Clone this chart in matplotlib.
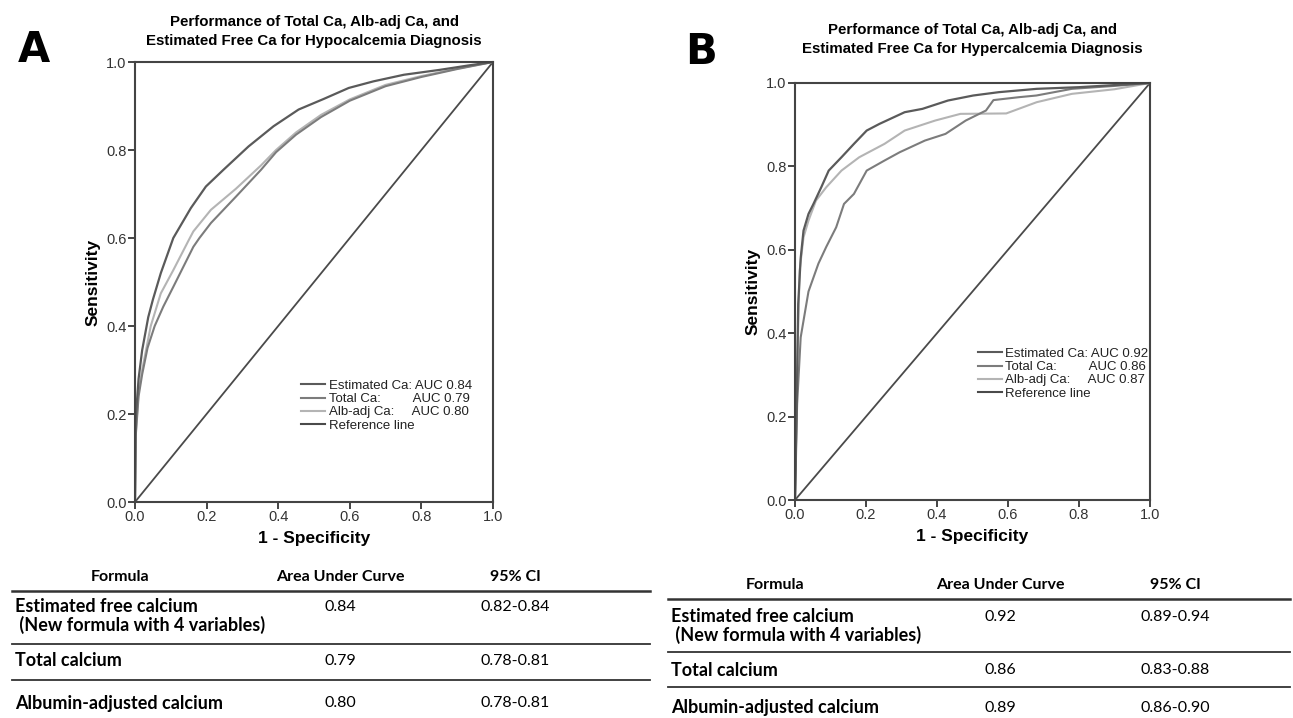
# ROC curves for hypo- / hypercalcemia diagnosis, with AUC tables

import matplotlib
matplotlib.use("Agg")
import matplotlib.pyplot as plt

# ---- data ----
# Panel A: hypocalcemia
est_a_x = [0, 0.002, 0.01, 0.02, 0.037, 0.05, 0.072, 0.107, 0.156, 0.198, 0.247,
           0.317, 0.387, 0.457, 0.527, 0.597, 0.666, 0.751, 0.85, 0.93, 1.0]
est_a_y = [0, 0.19, 0.28, 0.345, 0.42, 0.46, 0.52, 0.60, 0.668, 0.717, 0.755,
           0.808, 0.854, 0.892, 0.916, 0.941, 0.956, 0.971, 0.982, 0.992, 1.0]

tot_a_x = [0, 0.002, 0.01, 0.02, 0.035, 0.055, 0.079, 0.107, 0.163, 0.18, 0.212,
           0.282, 0.352, 0.394, 0.45, 0.52, 0.6, 0.7, 0.8, 0.9, 1.0]
tot_a_y = [0, 0.15, 0.24, 0.29, 0.35, 0.40, 0.444, 0.489, 0.58, 0.60, 0.634,
           0.694, 0.755, 0.795, 0.835, 0.875, 0.912, 0.945, 0.966, 0.984, 1.0]

alb_a_x = [0, 0.002, 0.01, 0.02, 0.044, 0.072, 0.107, 0.15, 0.163, 0.212, 0.282,
           0.352, 0.394, 0.45, 0.52, 0.6, 0.7, 0.8, 0.9, 1.0]
alb_a_y = [0, 0.155, 0.25, 0.30, 0.40, 0.474, 0.527, 0.595, 0.615, 0.664, 0.712,
           0.765, 0.80, 0.84, 0.88, 0.915, 0.948, 0.968, 0.985, 1.0]

# Panel B: hypercalcemia
est_b_x = [0, 0.002, 0.009, 0.016, 0.024, 0.038, 0.052, 0.074, 0.095, 0.131, 0.166,
           0.202, 0.238, 0.309, 0.359, 0.431, 0.502, 0.574, 0.681, 0.8, 0.9, 1.0]
est_b_y = [0, 0.07, 0.47, 0.58, 0.646, 0.686, 0.71, 0.75, 0.79, 0.822, 0.854,
           0.886, 0.902, 0.93, 0.938, 0.958, 0.97, 0.978, 0.986, 0.99, 0.995, 1.0]

tot_b_x = [0, 0.002, 0.006, 0.016, 0.038, 0.066, 0.088, 0.116, 0.138, 0.166, 0.202,
           0.252, 0.295, 0.366, 0.424, 0.481, 0.538, 0.559, 0.631, 0.68, 0.78, 0.9, 1.0]
tot_b_y = [0, 0.10, 0.23, 0.39, 0.50, 0.567, 0.607, 0.654, 0.71, 0.734, 0.79,
           0.814, 0.834, 0.862, 0.878, 0.91, 0.934, 0.959, 0.966, 0.97, 0.986, 0.993, 1.0]

alb_b_x = [0, 0.002, 0.006, 0.013, 0.024, 0.038, 0.059, 0.088, 0.131, 0.181, 0.252,
           0.309, 0.395, 0.466, 0.595, 0.681, 0.78, 0.9, 1.0]
alb_b_y = [0, 0.10, 0.31, 0.55, 0.63, 0.67, 0.718, 0.75, 0.79, 0.822, 0.854,
           0.886, 0.91, 0.926, 0.927, 0.954, 0.974, 0.985, 1.0]

ref_x = [0, 1]
ref_y = [0, 1]

ticks = [0.0, 0.2, 0.4, 0.6, 0.8, 1.0]
tick_labels = ["0.0", "0.2", "0.4", "0.6", "0.8", "1.0"]

labels_a = ["Estimated Ca: AUC 0.84", "Total Ca:         AUC 0.79",
            "Alb-adj Ca:     AUC 0.80", "Reference line"]
labels_b = ["Estimated Ca: AUC 0.92", "Total Ca:         AUC 0.86",
            "Alb-adj Ca:     AUC 0.87", "Reference line"]

title_a = "Performance of Total Ca, Alb-adj Ca, and\nEstimated Free Ca for Hypocalcemia Diagnosis"
title_b = "Performance of Total Ca, Alb-adj Ca, and\nEstimated Free Ca for Hypercalcemia Diagnosis"

formulas = ["Estimated free calcium", "Total calcium", "Albumin-adjusted calcium"]
formula_note = " (New formula with 4 variables)"
auc_a = ["0.84", "0.79", "0.80"]
ci_a = ["0.82-0.84", "0.78-0.81", "0.78-0.81"]
auc_b = ["0.92", "0.86", "0.89"]
ci_b = ["0.89-0.94", "0.83-0.88", "0.86-0.90"]
headers = ["Formula", "Area Under Curve", "95% CI"]

# ---- styles ----
c_est = "#5a5a5a"
c_tot = "#7c7c7c"
c_alb = "#b4b4b4"
c_ref = "#4a4a4a"
c_axis = "#444444"

W, H = 1293, 718
fig = plt.figure(figsize=(W / 100, H / 100), dpi=100)
plt.rcParams['font.family'] = ['Liberation Sans', 'DejaVu Sans']


def px_axes(left, top, right, bottom):
    return fig.add_axes([left / W, (H - bottom) / H, (right - left) / W, (bottom - top) / H])


def roc_panel(ax, est, tot, alb, labels, leg_anchor):
    ax.plot(ref_x, ref_y, color=c_ref, lw=1.3)
    ax.plot(alb[0], alb[1], color=c_alb, lw=1.5)
    ax.plot(tot[0], tot[1], color=c_tot, lw=1.5)
    ax.plot(est[0], est[1], color=c_est, lw=1.6)
    ax.set_xlim(0, 1)
    ax.set_ylim(0, 1)
    ax.set_xticks(ticks)
    ax.set_xticklabels(tick_labels)
    ax.set_yticks(ticks)
    ax.set_yticklabels(tick_labels)
    ax.tick_params(direction="out", length=5, width=1.4, color=c_axis,
                   labelsize=10.5, labelcolor="#333333", pad=1)
    for s in ax.spines.values():
        s.set_color(c_axis)
        s.set_linewidth(1.5)
    ax.set_xlabel("1 - Specificity", fontsize=12.5, fontweight="bold", labelpad=5)
    ax.set_ylabel("Sensitivity", fontsize=12.5, fontweight="bold", labelpad=4)
    handles = [plt.Line2D([], [], color=c, lw=1.5) for c in (c_est, c_tot, c_alb, c_ref)]
    ax.legend(handles, labels, loc="upper left", bbox_to_anchor=leg_anchor,
              frameon=False, fontsize=9.5, handlelength=1.8, handletextpad=0.3,
              labelspacing=0.08, borderaxespad=0, labelcolor="#222222")


ax_a = px_axes(135, 62, 493, 502)
roc_panel(ax_a, (est_a_x, est_a_y), (tot_a_x, tot_a_y), (alb_a_x, alb_a_y),
          labels_a, (0.45, 0.29))
ax_b = px_axes(795, 83, 1150, 500)
roc_panel(ax_b, (est_b_x, est_b_y), (tot_b_x, tot_b_y), (alb_b_x, alb_b_y),
          labels_b, (0.5, 0.378))

# titles and panel letters
fig.text(314 / W, 1 - 15 / H, title_a, ha="center", va="top", fontsize=10.8,
         fontweight="bold", linespacing=1.45)
fig.text(972 / W, 1 - 23 / H, title_b, ha="center", va="top", fontsize=10.8,
         fontweight="bold", linespacing=1.45)
fig.text(18 / W, 1 - 50 / H, "A", ha="left", va="center", fontsize=30,
         fontweight="heavy", family="DejaVu Sans")
fig.text(685 / W, 1 - 52 / H, "B", ha="left", va="center", fontsize=30,
         fontweight="heavy", family="DejaVu Sans")

# ---- tables ----
tab = fig.add_axes([0, 0, 1, 1])
tab.set_xlim(0, W)
tab.set_ylim(H, 0)
tab.axis("off")
tfont = ["Lato", "DejaVu Sans"]


def table(x0, x1, col_x, y_head, y_rows, y_lines, aucs, cis):
    for hx, ht in zip(col_x, headers):
        tab.text(hx, y_head, ht, ha="center", va="center", fontsize=11.5,
                 fontweight="bold", family=tfont)
    for i, yl in enumerate(y_lines):
        tab.plot([x0, x1], [yl, yl], color="#333333", lw=1.8 if i == 0 else 1.3)
    for i, y in enumerate(y_rows):
        tab.text(x0 + 3, y, formulas[i], ha="left", va="center", fontsize=13,
                 fontweight="bold", family=tfont)
        tab.text(col_x[1], y, aucs[i], ha="center", va="center", fontsize=11.5, family=tfont)
        tab.text(col_x[2], y, cis[i], ha="center", va="center", fontsize=11.5, family=tfont)
    tab.text(x0 + 3, y_rows[0] + 18, formula_note, ha="left", va="center", fontsize=13,
             fontweight="bold", family=tfont)


table(12, 650, (120, 340, 515), 577, (607, 661, 703), (591, 644, 680), auc_a, ci_a)
table(668, 1290, (775, 1000, 1175), 585, (617, 670, 708), (599, 652, 687), auc_b, ci_b)

fig.savefig("out.png", dpi=100)
